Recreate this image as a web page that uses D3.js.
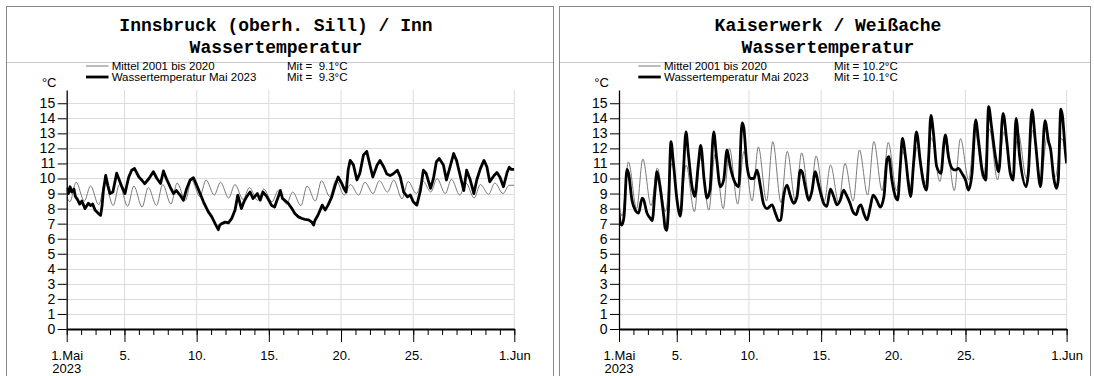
<!DOCTYPE html>
<html>
<head>
<meta charset="utf-8">
<script src="https://cdn.jsdelivr.net/npm/d3@7"></script>
<style>
  body { margin: 0; background: #fff; }
  svg { display: block; }
  text { font-family: "Liberation Sans", Arial, sans-serif; fill: #000; }
  .title { font-family: "Liberation Mono", "Courier New", monospace; font-weight: bold; font-size: 18px; }
  .legend { font-size: 11.5px; white-space: pre; }
</style>
</head>
<body>
<svg id="chart" width="1094" height="376"></svg>
<script>
// ---- data ----
// x axis: days since 1 May 2023
const majorDays = [0, 4, 9, 14, 19, 24, 31];
const majorLabels = ["1.Mai", "5.", "10.", "15.", "20.", "25.", "1.Jun"];
const gridDays = [4, 9, 14, 19, 24, 31];
const yTicks = d3.range(0, 16);

// Innsbruck (oberh. Sill) / Inn
const innTitle = ["Innsbruck (oberh. Sill) / Inn", "Wassertemperatur"];
const innMittelText = "Mit =  9.1°C";
const innMaiText = "Mit =  9.3°C";
// daily minimum / maximum of the 2001-2020 mean
const innMittelMin = [8.45, 8.5, 8.25, 8.2, 8.15, 8.1, 8.2, 8.3, 8.55, 8.8, 8.9, 8.7, 8.6, 8.55, 8.45,
  8.3, 8.2, 8.5, 8.8, 8.9, 8.9, 9.0, 9.1, 8.65, 9.0, 9.1, 9.0, 8.9, 8.7, 8.95, 9.0];
const innMittelMax = [9.75, 9.5, 9.7, 9.6, 9.5, 9.4, 9.6, 9.7, 9.9, 9.9, 9.75, 9.6, 9.4, 9.3, 9.2,
  9.1, 9.5, 9.85, 9.9, 9.6, 9.75, 9.85, 9.9, 9.8, 9.85, 10.0, 9.95, 9.7, 9.6, 9.7, 9.55];
const innMittelEnds = [8.8, 9.55];
// [day, °C]
const innMai2023 = [[0,9.4],[0.12,9.0],[0.23,9.45],[0.35,9.1],[0.5,9.3],[0.6,8.8],[0.75,8.6],[0.9,8.3],
  [1.05,8.5],[1.27,8.0],[1.5,8.35],[1.65,8.2],[1.8,8.3],[1.96,7.9],[2.2,7.67],[2.35,7.55],[2.45,8.2],
  [2.54,9.2],[2.7,10.2],[2.85,9.55],[3.0,9.0],[3.2,9.1],[3.46,10.35],[3.6,10.0],[3.8,9.5],[4.04,9.0],
  [4.2,9.7],[4.3,10.1],[4.5,10.55],[4.7,10.66],[5.0,10.1],[5.2,9.9],[5.4,9.65],[5.7,10.0],[6.0,10.45],
  [6.25,10.0],[6.5,9.67],[6.7,10.5],[6.9,10.0],[7.16,9.45],[7.4,9.0],[7.6,9.2],[7.85,8.9],[8.08,8.55],
  [8.3,9.3],[8.55,9.9],[8.78,10.05],[9.0,9.56],[9.24,9.0],[9.47,8.45],[9.8,7.8],[10.05,7.45],[10.28,7.0],
  [10.5,6.6],[10.6,6.9],[10.74,7.0],[10.97,7.1],[11.2,7.05],[11.43,7.35],[11.66,7.9],[11.85,8.9],
  [12.1,8.0],[12.3,8.5],[12.47,8.8],[12.7,9.1],[12.9,8.67],[13.2,9.0],[13.4,8.56],[13.6,9.1],[13.86,8.8],
  [14.2,8.2],[14.4,8.1],[14.66,8.8],[14.8,9.2],[14.95,8.67],[15.1,8.56],[15.35,8.34],[15.6,8.0],
  [15.8,7.67],[16.05,7.45],[16.3,7.34],[16.5,7.28],[16.75,7.25],[16.98,7.1],[17.1,6.9],[17.2,7.23],
  [17.4,7.56],[17.7,8.23],[17.9,7.9],[18.1,8.23],[18.36,8.78],[18.6,9.56],[18.8,10.1],[19.05,9.67],
  [19.2,9.34],[19.35,9.1],[19.5,10.6],[19.63,11.2],[19.86,10.9],[20.1,9.9],[20.3,10.33],[20.55,11.55],
  [20.78,11.8],[21.0,10.9],[21.2,10.1],[21.5,10.9],[21.7,11.2],[21.95,10.78],[22.17,10.3],[22.4,10.2],
  [22.6,10.3],[22.9,10.55],[23.1,10.1],[23.34,9.1],[23.6,8.78],[23.8,8.9],[24.0,8.45],[24.25,8.23],
  [24.5,9.2],[24.7,10.55],[24.9,10.33],[25.2,9.34],[25.4,10.0],[25.6,11.1],[25.8,11.33],[26.09,10.9],
  [26.3,9.9],[26.55,10.78],[26.8,11.66],[27.0,11.2],[27.25,10.2],[27.5,9.2],[27.7,10.55],[27.95,9.9],
  [28.2,9.0],[28.4,9.9],[28.65,10.66],[28.9,11.2],[29.1,10.78],[29.3,9.78],[29.6,10.2],[29.8,10.4],
  [30.0,10.1],[30.25,9.45],[30.5,10.4],[30.65,10.75],[30.8,10.6],[31,10.6]];

// Kaiserwerk / Weißache
const kaiTitle = ["Kaiserwerk / Weißache", "Wassertemperatur"];
const kaiMittelText = "Mit = 10.2°C";
const kaiMaiText = "Mit = 10.1°C";
const kaiMittelMin = [7.5, 8.0, 8.2, 7.8, 7.7, 7.8, 7.9, 8.0, 8.3, 8.5, 8.5, 8.4, 8.5, 8.5, 8.5,
  8.4, 8.5, 8.9, 9.2, 9.2, 9.5, 9.7, 9.8, 9.2, 9.9, 10.0, 9.9, 9.9, 10.0, 9.9, 10.1];
const kaiMittelMax = [11.1, 11.3, 10.7, 11.0, 10.9, 11.4, 11.6, 12.0, 11.8, 12.1, 12.45, 11.8, 11.7, 11.5, 10.9,
  11.0, 11.9, 12.45, 12.4, 11.8, 12.1, 12.7, 12.6, 12.65, 13.2, 13.3, 13.1, 13.0, 13.2, 12.8, 12.67];
const kaiMittelEnds = [8.3, 11.2];
const kaiMai2023 = [[0,7.7],[0.1,7.0],[0.2,6.9],[0.35,7.5],[0.55,10.6],[0.67,10.3],[0.9,8.55],[1.13,7.9],
  [1.36,7.7],[1.6,8.7],[1.7,8.6],[1.94,7.7],[2.17,7.35],[2.3,7.2],[2.5,9.25],[2.63,10.45],[2.8,9.7],
  [3.1,7.5],[3.2,6.7],[3.3,6.55],[3.42,7.9],[3.6,12.45],[3.75,11.2],[4.02,8.55],[4.25,7.5],[4.45,10.3],
  [4.64,13.1],[4.8,11.67],[5.06,9.45],[5.24,8.8],[5.5,11.0],[5.66,12.2],[5.9,9.9],[6.1,8.7],[6.3,9.25],
  [6.56,13.1],[6.75,11.45],[7.02,9.45],[7.25,9.9],[7.48,11.9],[7.7,10.8],[8.06,9.67],[8.29,9.45],
  [8.52,13.7],[8.63,13.45],[8.87,10.8],[9.1,10.0],[9.33,10.0],[9.56,10.55],[9.8,9.45],[10.0,8.35],
  [10.25,8.0],[10.6,8.25],[10.83,7.7],[11.06,7.2],[11.2,7.25],[11.4,8.8],[11.64,9.56],[11.85,8.9],
  [12.1,8.35],[12.33,8.8],[12.56,10.55],[12.68,10.45],[12.9,9.45],[13.14,8.55],[13.35,9.1],[13.6,10.45],
  [13.8,9.67],[14.18,8.35],[14.4,8.15],[14.64,9.3],[14.87,8.8],[15.1,8.25],[15.33,8.57],[15.56,9.23],
  [15.7,9.0],[16.0,8.35],[16.2,7.8],[16.43,7.6],[16.6,8.1],[16.75,8.25],[16.95,7.7],[17.18,7.25],
  [17.4,8.1],[17.6,8.9],[17.85,8.56],[18.1,8.1],[18.35,8.8],[18.57,11.3],[18.68,11.45],[18.9,9.9],
  [19.14,8.8],[19.3,8.57],[19.48,10.8],[19.63,12.67],[19.84,11.45],[20.07,9.45],[20.2,8.8],[20.4,11.0],
  [20.6,13.1],[20.87,11.1],[21.1,9.67],[21.3,9.23],[21.45,11.45],[21.6,14.2],[21.78,13.0],[22.0,10.8],
  [22.3,10.34],[22.5,12.33],[22.6,12.9],[22.82,11.45],[23.07,10.67],[23.3,10.56],[23.5,10.67],
  [23.75,10.34],[24.0,9.9],[24.2,9.23],[24.45,10.34],[24.7,13.9],[24.9,12.5],[25.15,10.56],[25.4,9.9],
  [25.6,14.77],[25.8,13.45],[26.07,11.45],[26.3,10.45],[26.6,14.33],[26.85,12.55],[27.1,10.34],
  [27.3,9.9],[27.5,14.0],[27.75,11.45],[28.2,9.45],[28.35,10.34],[28.6,14.55],[28.85,12.34],[29.2,9.45],
  [29.5,13.85],[29.75,12.45],[29.9,11.9],[30.1,10.1],[30.3,9.35],[30.42,9.9],[30.6,14.6],[30.72,14.1],
  [30.9,11.9],[31,11.0]];

const legendNames = ["Mittel 2001 bis 2020", "Wassertemperatur Mai 2023"];

// ---- drawing ----
const t0 = Date.UTC(2023, 4, 1);
const toDate = d => new Date(t0 + d * 864e5);

// mean curve: daily minimum early morning, maximum in the afternoon
function meanPoints(mins, maxs, ends) {
  let pts = [[0, ends[0]]];
  mins.forEach((m, i) => {
    pts.push([i + 0.22, m]);
    pts.push([i + 0.65, maxs[i]]);
  });
  pts.push([31, ends[1]]);
  return pts;
}

const svg = d3.select('#chart');

// the Inn series is noisy, the Weißache one smooth
const panels = [
  { frameX: 6, frameW: 547, plotX: 66.7, titleX: 276, mitX: 287, id: 'inn',
    title: innTitle, mittel: meanPoints(innMittelMin, innMittelMax, innMittelEnds), mai: innMai2023,
    maiCurve: d3.curveLinear, mitTexts: [innMittelText, innMaiText] },
  { frameX: 559, frameW: 531, plotX: 619, titleX: 828, mitX: 834, id: 'kai',
    title: kaiTitle, mittel: meanPoints(kaiMittelMin, kaiMittelMax, kaiMittelEnds), mai: kaiMai2023,
    maiCurve: d3.curveMonotoneX, mitTexts: [kaiMittelText, kaiMaiText] }
];

const plotW = 447.6, yBottom = 329, yTop = 90;

panels.forEach(p => {
  let g = svg.append('g');

  // frame
  g.append('rect')
    .attr('x', p.frameX + 0.5).attr('y', 6.5)
    .attr('width', p.frameW).attr('height', 400)
    .attr('fill', 'none').attr('stroke', '#8a8a8a').attr('stroke-width', 1);
  g.append('line')
    .attr('x1', p.frameX + 1).attr('x2', p.frameX + p.frameW)
    .attr('y1', 62.5).attr('y2', 62.5)
    .attr('stroke', '#c8c8c8');

  // titles
  g.selectAll('.title').data(p.title).enter().append('text')
    .attr('class', 'title')
    .attr('x', p.titleX)
    .attr('y', (d, i) => 31 + i * 22)
    .attr('text-anchor', 'middle')
    .text(d => d);

  let x = d3.scaleUtc().domain([toDate(0), toDate(31)]).range([p.plotX, p.plotX + plotW]);
  let y = d3.scaleLinear().domain([0, 15.88]).range([yBottom, yTop]);

  // grid
  g.selectAll('.hgrid').data(yTicks.filter(v => v > 0)).enter().append('line')
    .attr('x1', p.plotX).attr('x2', p.plotX + plotW)
    .attr('y1', d => Math.round(y(d)) + 0.5).attr('y2', d => Math.round(y(d)) + 0.5)
    .attr('stroke', '#dcdcdc');
  g.selectAll('.vgrid').data(gridDays).enter().append('line')
    .attr('x1', d => x(toDate(d))).attr('x2', d => x(toDate(d)))
    .attr('y1', yBottom).attr('y2', yTop)
    .attr('stroke', '#dcdcdc');

  // series
  let clipId = 'clip-' + p.id;
  g.append('clipPath').attr('id', clipId).append('rect')
    .attr('x', p.plotX).attr('y', yTop).attr('width', plotW).attr('height', yBottom - yTop);
  let line = d3.line()
    .x(d => x(toDate(d[0])))
    .y(d => y(d[1]))
    .curve(d3.curveMonotoneX);
  g.append('path').datum(p.mittel)
    .attr('clip-path', 'url(#' + clipId + ')')
    .attr('d', line).attr('fill', 'none')
    .attr('stroke', '#7a7a7a').attr('stroke-width', 1);
  g.append('path').datum(p.mai)
    .attr('clip-path', 'url(#' + clipId + ')')
    .attr('d', line.curve(p.maiCurve)).attr('fill', 'none')
    .attr('stroke', '#000').attr('stroke-width', 2.8)
    .attr('stroke-linejoin', 'round');

  // y axis
  let yAxis = g.append('g')
    .attr('transform', 'translate(' + p.plotX + ',0)')
    .call(d3.axisLeft(y).tickValues(yTicks).tickSize(9).tickSizeOuter(0).tickPadding(2.5));
  yAxis.selectAll('text').style('font-size', '14px').style('font-family', '"Liberation Sans", Arial, sans-serif');
  yAxis.select('.domain').attr('stroke-width', 1.3);

  // x axis: daily minor ticks, labelled major ticks
  let minor = g.append('g')
    .attr('transform', 'translate(0,' + yBottom + ')')
    .call(d3.axisBottom(x).ticks(d3.utcDay.every(1)).tickSize(6).tickFormat(''));
  minor.select('.domain').remove();
  let major = g.append('g')
    .attr('transform', 'translate(0,' + yBottom + ')')
    .call(d3.axisBottom(x).tickValues(majorDays.map(toDate))
      .tickSize(13).tickSizeOuter(0).tickPadding(8.5)
      .tickFormat((d, i) => majorLabels[i]));
  major.selectAll('text').style('font-size', '13px').style('font-family', '"Liberation Sans", Arial, sans-serif');
  major.select('.domain').attr('stroke-width', 1.8);
  g.append('text')
    .attr('x', x(toDate(0))).attr('y', 373)
    .attr('text-anchor', 'middle')
    .style('font-size', '13px')
    .text('2023');

  // unit
  g.append('text')
    .attr('x', p.plotX - 17.5).attr('y', 87)
    .attr('text-anchor', 'middle')
    .style('font-size', '13px')
    .text('°C');

  // legend
  let lx = p.plotX + 19.3;
  [66, 77].forEach((ly, i) => {
    g.append('line')
      .attr('x1', lx).attr('x2', lx + 22.5)
      .attr('y1', ly).attr('y2', ly)
      .attr('stroke', i == 0 ? '#7a7a7a' : '#000')
      .attr('stroke-width', i == 0 ? 1 : 2.8);
    g.append('text').attr('class', 'legend')
      .attr('x', p.plotX + 45).attr('y', ly + 4.2)
      .text(legendNames[i]);
    g.append('text').attr('class', 'legend')
      .attr('x', p.mitX).attr('y', ly + 4.2)
      .text(p.mitTexts[i]);
  });
});
</script>
</body>
</html>
